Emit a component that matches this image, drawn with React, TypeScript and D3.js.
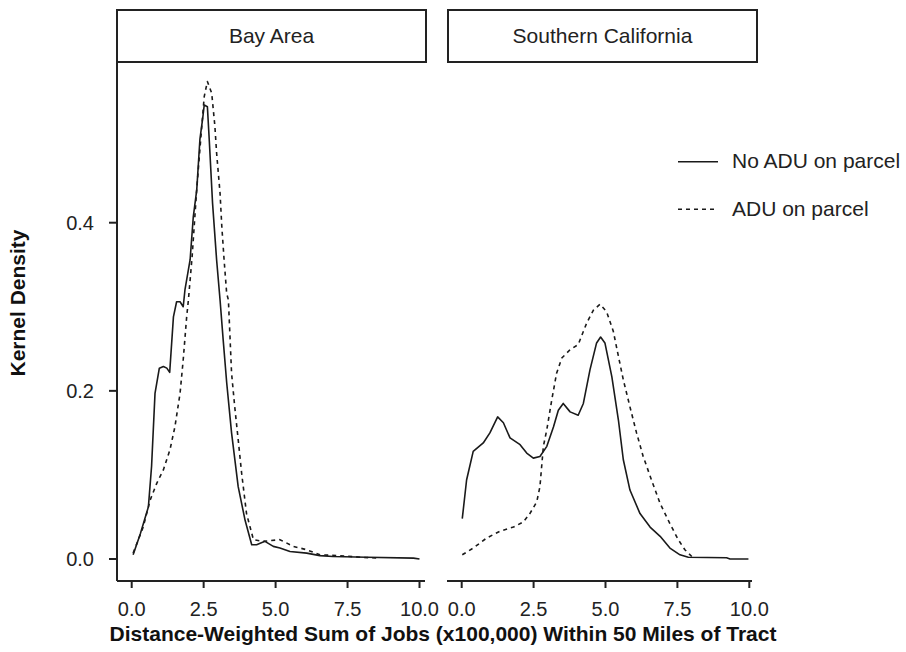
import React from "react";
import * as d3 from "d3";

const panels = ["Bay Area", "Southern California"];
const seriesNames = ["No ADU on parcel", "ADU on parcel"];
const xTicks = [0, 2.5, 5, 7.5, 10];
const yTicks = [0, 0.2, 0.4];

// Bay Area, No ADU (solid)
const bayNoX = [0.05, 0.3, 0.58, 0.69, 0.81, 0.96, 1.1, 1.22, 1.32, 1.45, 1.56, 1.68, 1.79, 1.85, 2.03, 2.14, 2.26, 2.37, 2.47, 2.52, 2.63, 2.7, 2.81, 2.95, 3.07, 3.18, 3.3, 3.47, 3.7, 3.94, 4.17, 4.34, 4.63, 4.92, 5.15, 5.5, 6.08, 6.54, 6.99, 8.17, 9.79, 10.0];
const bayNoY = [0.005, 0.03, 0.062, 0.11, 0.197, 0.227, 0.229, 0.227, 0.222, 0.288, 0.306, 0.306, 0.3, 0.32, 0.356, 0.407, 0.439, 0.499, 0.525, 0.54, 0.538, 0.495, 0.423, 0.356, 0.308, 0.26, 0.21, 0.15, 0.086, 0.046, 0.017, 0.017, 0.021, 0.015, 0.013, 0.009, 0.007, 0.004, 0.003, 0.002, 0.001, 0.0];
// Bay Area, ADU (dashed)
const bayAduX = [0.05, 0.4, 0.64, 0.87, 1.1, 1.33, 1.5, 1.68, 1.79, 1.91, 1.97, 2.1, 2.26, 2.4, 2.52, 2.63, 2.78, 2.89, 2.95, 3.07, 3.13, 3.21, 3.3, 3.36, 3.47, 3.58, 3.7, 3.82, 3.99, 4.23, 4.57, 5.15, 5.62, 6.08, 6.54, 7.2, 8.0, 8.6];
const bayAduY = [0.007, 0.038, 0.07, 0.09, 0.106, 0.13, 0.157, 0.197, 0.237, 0.288, 0.308, 0.36, 0.44, 0.5, 0.55, 0.568, 0.554, 0.515, 0.483, 0.435, 0.396, 0.356, 0.316, 0.308, 0.221, 0.181, 0.142, 0.102, 0.054, 0.023, 0.021, 0.023, 0.015, 0.011, 0.005, 0.004, 0.002, 0.001];
// Southern California, No ADU (solid)
const socNoX = [0.02, 0.17, 0.4, 0.75, 0.98, 1.25, 1.45, 1.68, 2.03, 2.26, 2.49, 2.72, 2.96, 3.19, 3.36, 3.53, 3.77, 4.05, 4.23, 4.46, 4.69, 4.83, 4.98, 5.22, 5.45, 5.62, 5.85, 6.2, 6.55, 6.9, 7.24, 7.59, 7.88, 9.21, 9.33, 9.97];
const socNoY = [0.048, 0.094, 0.128, 0.138, 0.15, 0.169, 0.162, 0.144, 0.136, 0.126, 0.12, 0.122, 0.134, 0.157, 0.177, 0.185, 0.175, 0.171, 0.185, 0.225, 0.257, 0.264, 0.257, 0.217, 0.165, 0.118, 0.082, 0.054, 0.038, 0.027, 0.013, 0.005, 0.002, 0.0015, 0.0, 0.0];
// Southern California, ADU (dashed)
const socAduX = [0.02, 0.4, 0.87, 1.33, 1.8, 2.14, 2.37, 2.61, 2.72, 2.78, 2.84, 2.96, 3.13, 3.3, 3.48, 3.77, 4.05, 4.35, 4.58, 4.81, 5.04, 5.27, 5.45, 5.62, 5.85, 6.08, 6.31, 6.6, 6.9, 7.24, 7.53, 7.76, 8.0];
const socAduY = [0.005, 0.013, 0.025, 0.033, 0.038, 0.044, 0.054, 0.068, 0.086, 0.11, 0.134, 0.154, 0.189, 0.221, 0.239, 0.249, 0.255, 0.281, 0.296, 0.303, 0.294, 0.271, 0.241, 0.213, 0.181, 0.15, 0.122, 0.094, 0.066, 0.042, 0.023, 0.011, 0.003];

const FONT = "'Liberation Sans', Arial, Helvetica, sans-serif";
const TXT = "#222";

export default function App() {
  const W = 906, H = 652;
  const top = 62, bottom = 581;
  const panelDefs = [
    { name: panels[0], left: 117, right: 426, x0: 131.7, x1: 419.5, yAxis: true, data: [[bayNoX, bayNoY], [bayAduX, bayAduY]] },
    { name: panels[1], left: 448, right: 757, x0: 461.7, x1: 749.3, yAxis: false, data: [[socNoX, socNoY], [socAduX, socAduY]] },
  ];
  const y = d3.scaleLinear().domain([0, 0.4]).range([559, 222.7]);
  const dashes = [null, "4,4"];

  return (
    <svg width={W} height={H} style={{ position: "absolute", left: 0, top: 0 }} fontFamily={FONT}>
      <rect width={W} height={H} fill="#fff" />
      {panelDefs.map((p, pi) => {
        const x = d3.scaleLinear().domain([0, 10]).range([p.x0, p.x1]);
        return (
          <g key={pi}>
            <rect x={p.left} y={10} width={p.right - p.left} height={52} fill="#fff" stroke="#222" strokeWidth={2} />
            <text x={(p.left + p.right) / 2} y={42.5} textAnchor="middle" fontSize={21} fill={TXT}>{p.name}</text>
            {p.data.map((s, si) => {
              const [xs, ys] = s;
              const gen = d3.line<number>().x((_, i) => x(xs[i])).y((_, i) => y(ys[i]));
              return (
                <path key={si} d={gen(xs) || ""} fill="none" stroke="#1a1a1a" strokeWidth={1.6}
                  strokeDasharray={dashes[si] || undefined} strokeLinejoin="round" />
              );
            })}
            <line x1={pi === 0 ? p.left : p.left - 1} x2={pi === 0 ? 425 : 752} y1={bottom} y2={bottom} stroke="#222" strokeWidth={2} />
            {xTicks.map((t) => (
              <g key={t}>
                <line x1={x(t)} x2={x(t)} y1={bottom} y2={bottom + 7} stroke="#222" strokeWidth={2} />
                <text x={x(t)} y={616} textAnchor="middle" fontSize={20} fill={TXT}>{t.toFixed(1)}</text>
              </g>
            ))}
            {p.yAxis && (
              <g>
                <line x1={p.left} x2={p.left} y1={top} y2={bottom} stroke="#222" strokeWidth={2} />
                {yTicks.map((t) => (
                  <g key={t}>
                    <line x1={p.left - 8} x2={p.left} y1={y(t)} y2={y(t)} stroke="#222" strokeWidth={2} />
                    <text x={94} y={y(t) + 7} textAnchor="end" fontSize={20} fill={TXT}>{t.toFixed(1)}</text>
                  </g>
                ))}
              </g>
            )}
          </g>
        );
      })}
      {seriesNames.map((n, i) => (
        <g key={n}>
          <line x1={678} x2={718} y1={161.7 + i * 47.5} y2={161.7 + i * 47.5} stroke="#1a1a1a" strokeWidth={1.6} strokeDasharray={dashes[i] || undefined} />
          <text x={732} y={168 + i * 47.5} fontSize={21} fill={TXT}>{n}</text>
        </g>
      ))}
      <text x={443} y={641} textAnchor="middle" fontSize={21} fontWeight="bold" fill="#111">
        Distance-Weighted Sum of Jobs (x100,000) Within 50 Miles of Tract
      </text>
      <text transform="translate(25,303) rotate(-90)" textAnchor="middle" fontSize={21} fontWeight="bold" fill="#111">
        Kernel Density
      </text>
    </svg>
  );
}
